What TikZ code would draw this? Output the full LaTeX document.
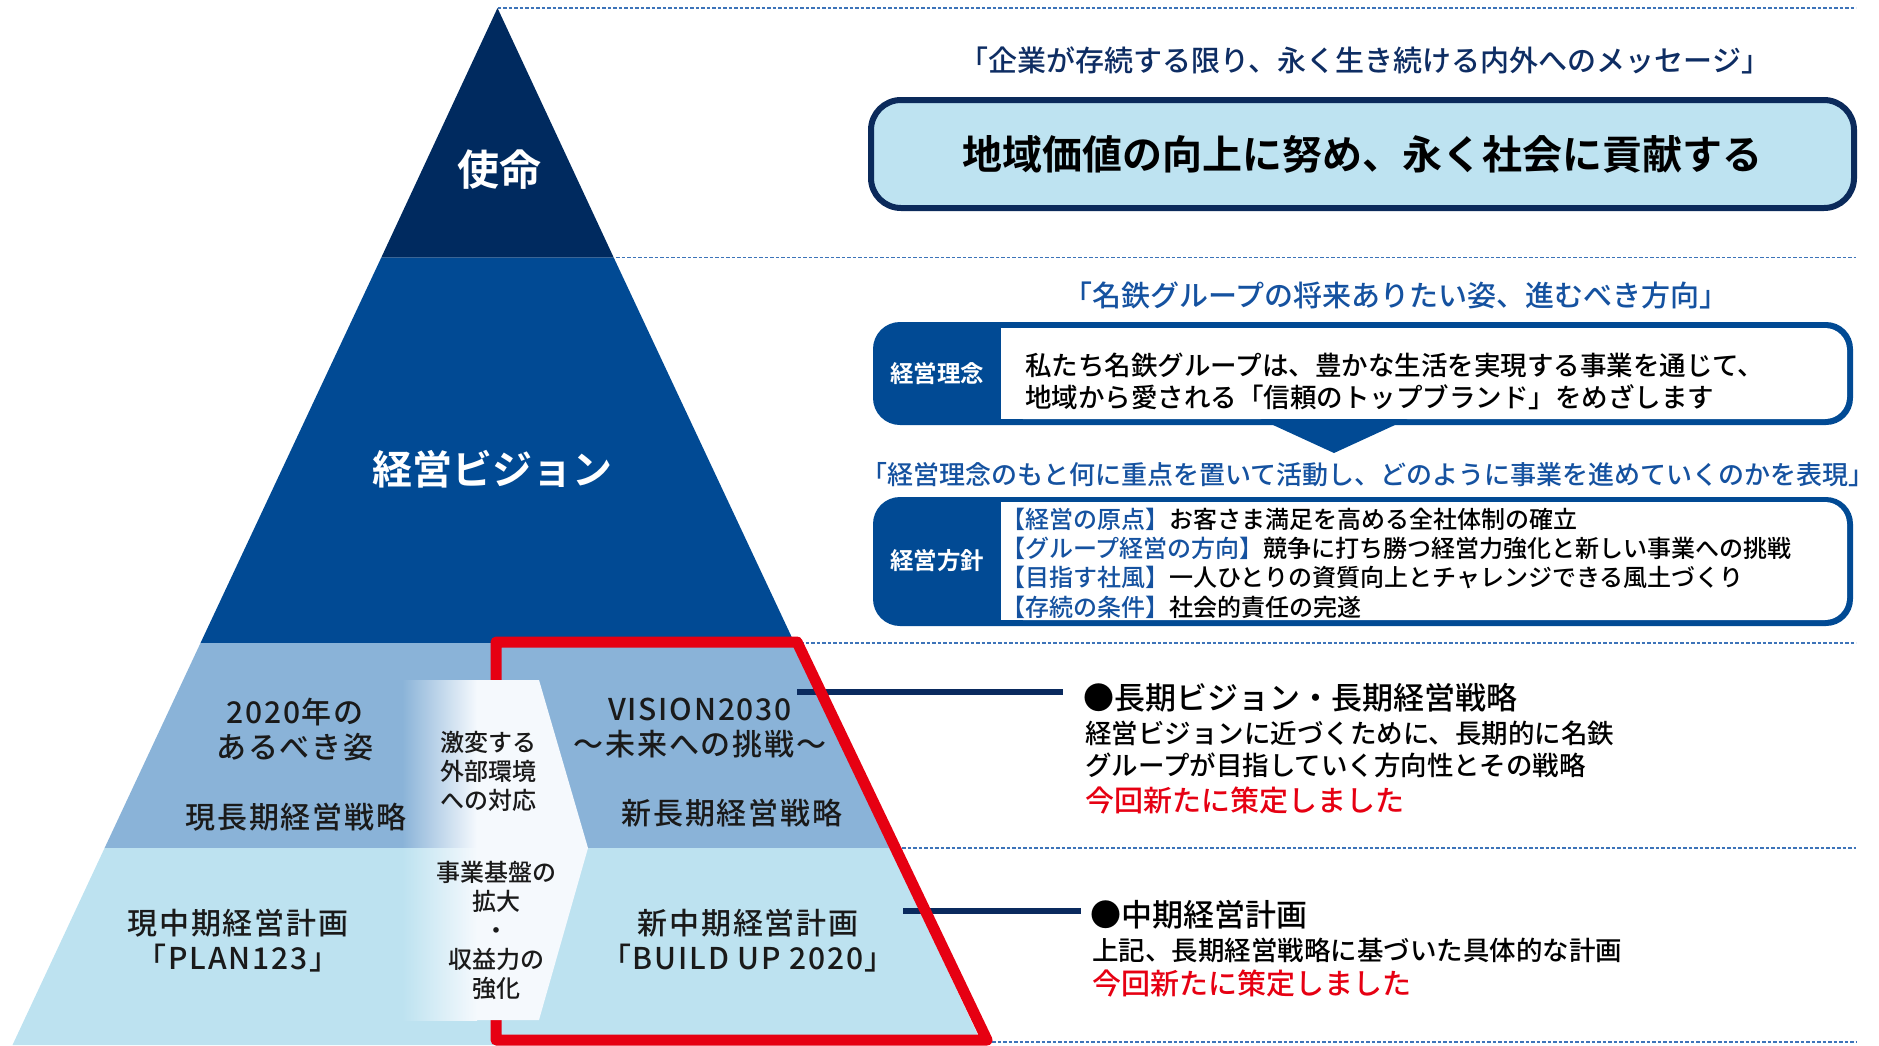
\documentclass[tikz,border=0pt]{standalone}
\usepackage{fontspec}
\setmainfont{Noto Sans CJK JP Medium}[BoldFont={Noto Sans CJK JP Bold}]
\newfontfamily\pyrfont{Noto Sans CJK JP Medium}[LetterSpace=6]

\definecolor{missionnavy}{HTML}{002A5F}
\definecolor{visionblue}{HTML}{014A94}
\definecolor{stratblue}{HTML}{8AB3D8}
\definecolor{planblue}{HTML}{BDE2F0}
\definecolor{midwhite}{HTML}{F5F9FD}
\definecolor{newred}{HTML}{E60012}
\definecolor{boxnavy}{HTML}{0B2A5B}
\definecolor{boxlight}{HTML}{BEE3F1}
\definecolor{headnavy}{HTML}{0E2D63}
\definecolor{headblue}{HTML}{1552A0}
\definecolor{dashblue}{HTML}{3D74B9}
\definecolor{leadnavy}{HTML}{0A2A5E}
\definecolor{inkblack}{HTML}{1A1A1A}

\tikzset{
  pyrlabel/.style={font=\bfseries\fontsize{42}{48}\selectfont, text=white, inner sep=0pt},
  pyrtext/.style={font=\pyrfont\fontsize{30}{35}\selectfont, align=center, inner sep=0pt, text=inkblack},
  midtext/.style={font=\fontsize{24}{29}\selectfont, align=center, inner sep=0pt, text=inkblack},
  heading/.style={font=\fontsize{29}{34}\selectfont, inner sep=0pt},
  boxlabel/.style={font=\bfseries\fontsize{23.5}{28}\selectfont, text=white, inner sep=0pt},
  bodytext/.style={font=\fontsize{26.5}{32}\selectfont, align=left, anchor=west, inner sep=0pt},
  titletext/.style={font=\fontsize{31}{36}\selectfont, anchor=west, inner sep=0pt},
  redtext/.style={font=\fontsize{29}{34}\selectfont, anchor=west, inner sep=0pt, text=newred},
  guide/.style={dashblue, line width=1.5pt, dash pattern=on 3.5pt off 2pt},
  leader/.style={leadnavy, line width=6pt},
}

\begin{document}
\begin{tikzpicture}[x=1pt,y=-1pt]
\useasboundingbox (0,0) rectangle (1879,1045);

% Pyramid bands
\fill[missionnavy] (497.5,8) -- (613.7,257.5) -- (381.3,257.5) -- cycle; % mission
\fill[visionblue] (381.3,257.5) -- (613.7,257.5) -- (794.5,643) -- (200.5,643) -- cycle; % vision
\fill[stratblue] (200.5,643) -- (794.5,643) -- (890.4,848) -- (104.6,848) -- cycle; % long-term
\fill[planblue] (104.6,848) -- (890.4,848) -- (982.5,1045) -- (12.5,1045) -- cycle; % mid-term

% Dashed guide lines
\draw[guide] (497.5,8) -- (1856,8);
\draw[guide] (616,257.5) -- (1856,257.5);
\draw[guide] (800,643) -- (1856,643);
\draw[guide] (902,848) -- (1856,848);
\draw[guide] (992,1042) -- (1856,1042);

% Right-hand notes
\node[titletext] (lvtitle) at (1083,698) {●長期ビジョン・長期経営戦略};
\node[bodytext] (lvbody) at (1085,749) {経営ビジョンに近づくために、長期的に名鉄\\グループが目指していく方向性とその戦略};
\node[redtext] (lvnew) at (1085,800) {今回新たに策定しました};
\node[titletext] (mptitle) at (1090,915) {●中期経営計画};
\node[bodytext] (mpbody) at (1092,950) {上記、長期経営戦略に基づいた具体的な計画};
\node[redtext] (mpnew) at (1092,983) {今回新たに策定しました};

% Leaders from the pyramid
\coordinate (lvstart) at (797,692);
\coordinate (mpstart) at (903,911);
\draw[leader] (lvstart) -- ([xshift=-20pt]lvtitle.west |- lvstart);
\draw[leader] (mpstart) -- ([xshift=-9pt]mptitle.west |- mpstart);

% Red frame round the new plans
\draw[newred, line width=11pt, line join=round] (496,642) -- (797,642) -- (987,1040) -- (496,1040) -- cycle;

% Middle arrow shape
\fill[midwhite] (402,680) -- (539,680) -- (588,848) -- (539,1020) -- (402,1020) -- cycle;
\shade[left color=stratblue, right color=midwhite] (402,680) rectangle (477,848);
\shade[left color=planblue, right color=midwhite] (402,848) rectangle (477,1020);

% Pyramid texts
\node[pyrlabel] (mission) at (499,170) {使命};
\node[pyrlabel, font=\bfseries\fontsize{40}{46}\selectfont] (vision) at (492,469) {経営ビジョン};
\node[pyrtext] (ideal) at (295,729.5) {2020年の\\あるべき姿};
\node[pyrtext] (curlong) at (296,817) {現長期経営戦略};
\node[pyrtext] (vision30) at (700,728.5) {VISION2030\\～未来への挑戦～};
\node[pyrtext] (newlong) at (732,813) {新長期経営戦略};
\node[pyrtext] (curmid) at (238,940.5) {現中期経営計画\\「PLAN123」};
\node[pyrtext] (newmid) at (748,940.5) {新中期経営計画\\「BUILD UP 2020」};
\node[midtext] (change) at (488,771) {激変する\\外部環境\\への対応};
\node[midtext] (base) at (496.5,930) {事業基盤の\\拡大\\・\\収益力の\\強化};

% Mission
\node[heading, text=headnavy] (missionhead) at (1365,60) {「企業が存続する限り、永く生き続ける内外へのメッセージ」};
\node[draw=boxnavy, line width=6pt, fill=boxlight, rounded corners=30pt, minimum width=983pt, minimum height=108pt,
      font=\bfseries\fontsize{40}{46}\selectfont] (missionbox) at (1362.5,154) {地域価値の向上に努め、永く社会に貢献する};

% Philosophy
\node[heading, text=headblue] (visionhead) at (1396,295) {「名鉄グループの将来ありたい姿、進むべき方向」};
\fill[visionblue, rounded corners=27pt] (873,322) rectangle (1853,425);
\fill[white, rounded corners=22pt] (1001,328) rectangle (1847,419);
\fill[white] (1001,328) rectangle (1800,419);
\fill[visionblue] (1260,419) -- (1408,419) -- (1334,453) -- cycle; % arrow down
\node[boxlabel] (philolabel) at (937,374) {経営理念};
\node[bodytext] (philotext) at (1025,381) {私たち名鉄グループは、豊かな生活を実現する事業を通じて、\\地域から愛される「信頼のトップブランド」をめざします};

% Policy
\node[heading, font=\fontsize{26}{32}\selectfont, text=headblue] (policyhead) at (1368,475) {「経営理念のもと何に重点を置いて活動し、どのように事業を進めていくのかを表現」};
\fill[visionblue, rounded corners=27pt] (873,497) rectangle (1853,626);
\fill[white, rounded corners=22pt] (1001,502) rectangle (1847,620);
\fill[white] (1001,502) rectangle (1800,620);
\node[boxlabel] (policylabel) at (937,561) {経営方針};
\node[bodytext, font=\fontsize{24}{29.3}\selectfont] (policytext) at (1001,563) {\textcolor{headblue}{【経営の原点】}お客さま満足を高める全社体制の確立\\\textcolor{headblue}{【グループ経営の方向】}競争に打ち勝つ経営力強化と新しい事業への挑戦\\\textcolor{headblue}{【目指す社風】}一人ひとりの資質向上とチャレンジできる風土づくり\\\textcolor{headblue}{【存続の条件】}社会的責任の完遂};

\end{tikzpicture}
\end{document}
